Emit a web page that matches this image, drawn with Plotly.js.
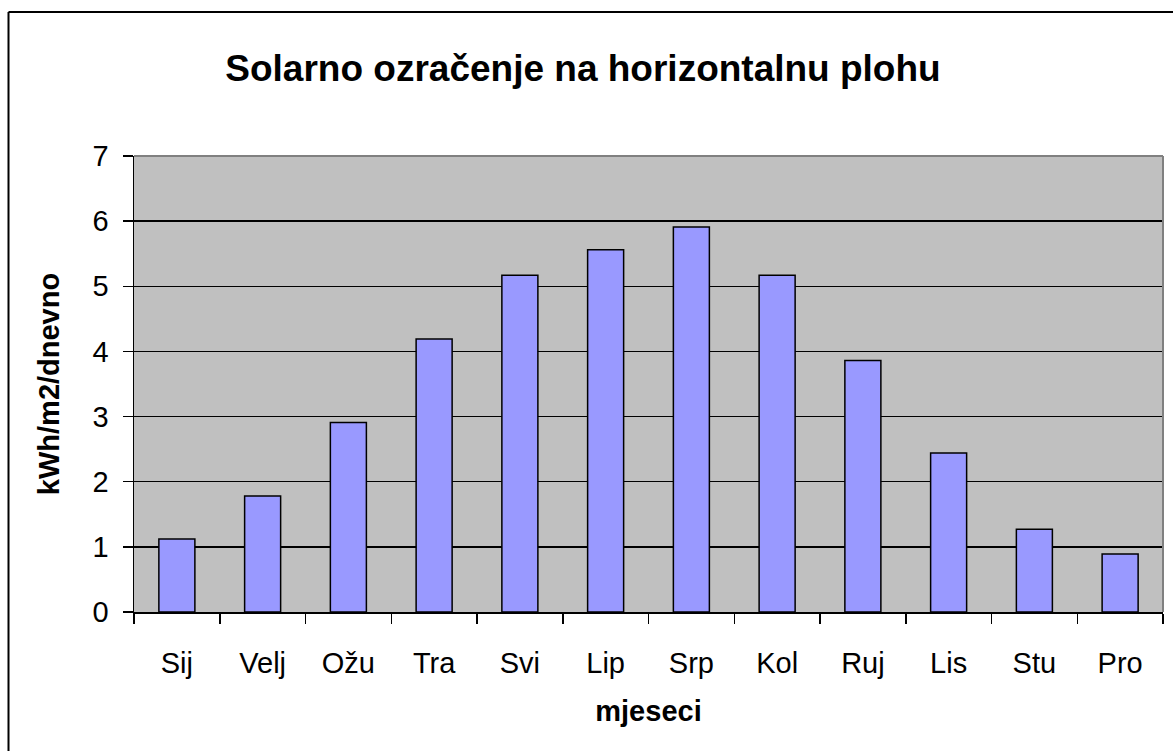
<!DOCTYPE html>
<html>
<head>
<meta charset="utf-8">
<script src="https://cdn.plot.ly/plotly-3.0.1.min.js"></script>
<style>
  html, body { margin: 0; padding: 0; background: #ffffff; }
  #chart { width: 1173px; height: 751px; }
</style>
</head>
<body>
<div id="chart"></div>
<script>
const months = ["Sij", "Velj", "Ožu", "Tra", "Svi", "Lip", "Srp", "Kol", "Ruj", "Lis", "Stu", "Pro"];
const irradiation = [1.12, 1.78, 2.91, 4.19, 5.17, 5.56, 5.91, 5.17, 3.86, 2.44, 1.27, 0.89];
const yTicks = [0, 1, 2, 3, 4, 5, 6, 7];

const W = 1173, H = 751;
const M = { l: 134, r: 10, t: 156, b: 139 };
const pw = W - M.l - M.r, ph = H - M.t - M.b;
const px = v => (v - M.l) / pw;
const py = v => (H - M.b - v) / ph;

const font = "Liberation Sans, Arial, sans-serif";

const trace = {
  type: "bar",
  x: months,
  y: irradiation,
  marker: { color: "#9999FF", line: { color: "#000000", width: 1.5 } },
  hoverinfo: "x+y"
};

const layout = {
  width: W,
  height: H,
  margin: M,
  paper_bgcolor: "#ffffff",
  plot_bgcolor: "#C0C0C0",
  bargap: 0.58,
  showlegend: false,
  title: {
    text: "<b>Solarno ozračenje na horizontalnu plohu</b>",
    font: { family: font, size: 37, color: "#000000" },
    x: 583 / W, xref: "container", xanchor: "center",
    y: 1 - 68 / H, yref: "container", yanchor: "middle"
  },
  xaxis: {
    type: "category",
    tickson: "boundaries",
    ticks: "outside",
    ticklen: 10,
    tickwidth: 1.5,
    tickcolor: "#000000",
    showline: true,
    linecolor: "#000000",
    linewidth: 1.5,
    showgrid: false,
    tickfont: { family: font, size: 29, color: "#000000" },
    ticklabelstandoff: 25,
    title: {
      text: "<b>mjeseci</b>",
      font: { family: font, size: 29, color: "#000000" },
      standoff: 22
    }
  },
  yaxis: {
    range: [0, 7],
    tickvals: yTicks,
    ticktext: yTicks.map(String),
    ticks: "outside",
    ticklen: 10,
    tickwidth: 1.5,
    tickcolor: "#000000",
    showline: true,
    linecolor: "#000000",
    linewidth: 1.5,
    showgrid: true,
    gridcolor: "#000000",
    gridwidth: 1.5,
    zeroline: false,
    tickfont: { family: font, size: 29, color: "#000000" },
    ticklabelstandoff: 8,
    title: {
      text: "<b>kWh/m2/dnevno</b>",
      font: { family: font, size: 29, color: "#000000" },
      standoff: 24
    }
  },
  shapes: [
    { type: "line", xref: "paper", yref: "paper", x0: 0, x1: 1, y0: 1, y1: 1,
      line: { color: "#808080", width: 2 }, layer: "above" },
    { type: "line", xref: "paper", yref: "paper", x0: 1, x1: 1, y0: 0, y1: 1,
      line: { color: "#808080", width: 2 }, layer: "above" },
    { type: "line", xref: "paper", yref: "paper", x0: px(8.5), x1: px(8.5), y0: py(12), y1: py(H + 20),
      line: { color: "#000000", width: 2 }, layer: "above" },
    { type: "line", xref: "paper", yref: "paper", x0: px(8.5), x1: px(W + 20), y0: py(12), y1: py(12),
      line: { color: "#000000", width: 2 }, layer: "above" }
  ]
};

Plotly.newPlot("chart", [trace], layout, { displayModeBar: false, staticPlot: true });
</script>
</body>
</html>
